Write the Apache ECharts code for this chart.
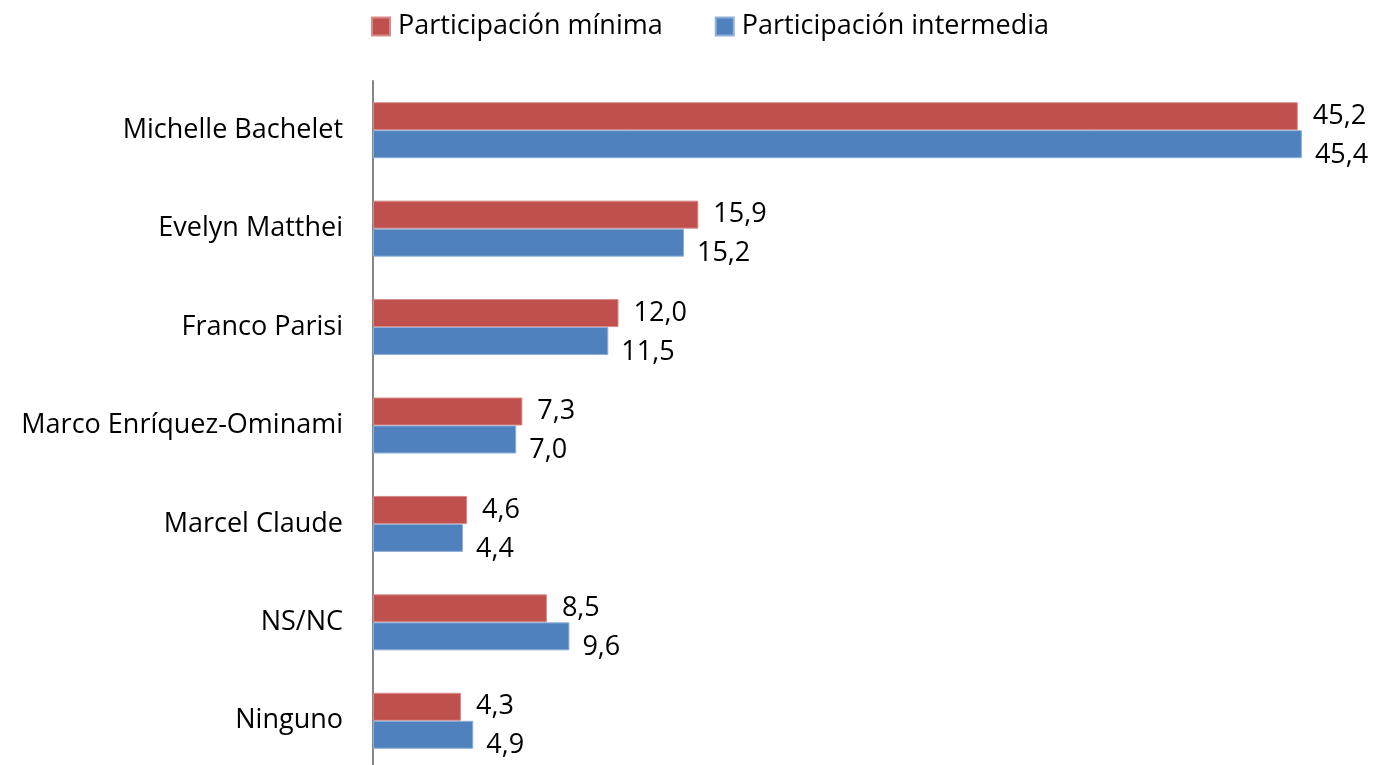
<!DOCTYPE html>
<html>
<head>
<meta charset="utf-8">
<script src="https://cdn.jsdelivr.net/npm/echarts@6/dist/echarts.min.js"></script>
<style>
    html, body, #main {
        width: 100%;
        height: 100%;
        margin: 0;
        background: #fff;
    }
</style>
</head>
<body>
<div id="main"></div>
<script>
    var categories = ['Michelle Bachelet', 'Evelyn Matthei', 'Franco Parisi', 'Marco Enríquez-Ominami', 'Marcel Claude', 'NS/NC', 'Ninguno'];
    var minima = [45.2, 15.9, 12.0, 7.3, 4.6, 8.5, 4.3];
    var intermedia = [45.4, 15.2, 11.5, 7.0, 4.4, 9.6, 4.9];
    var seriesNames = ['Participación mínima', 'Participación intermedia'];

    var font = '"Open Sans", sans-serif';
    var fmt = function (p) {
        return p.value.toFixed(1).replace('.', ',');
    };

    var chart = echarts.init(document.getElementById('main'));
    chart.setOption({
        animation: false,
        legend: {
            left: 366,
            top: 8,
            itemWidth: 18,
            itemHeight: 18,
            itemGap: 52,
            icon: 'rect',
            textStyle: { fontFamily: font, fontSize: 27, color: '#000', padding: [0, 0, 0, 3] },
            data: seriesNames
        },
        grid: {
            left: 373,
            top: 81,
            width: 1023,
            height: 689,
            containLabel: false,
            outerBoundsMode: 'none'
        },
        xAxis: {
            type: 'value',
            min: 0,
            max: 50,
            show: false
        },
        yAxis: {
            type: 'category',
            inverse: true,
            data: categories,
            axisLine: { lineStyle: { color: '#868686', width: 2 } },
            axisTick: { show: false },
            axisLabel: { fontFamily: font, fontSize: 27, color: '#000', margin: 30 }
        },
        series: [
            {
                name: seriesNames[0],
                type: 'bar',
                data: minima,
                barWidth: 28,
                barGap: '0%',
                itemStyle: { color: '#C0504D', borderColor: '#D98A88', borderWidth: 1 },
                label: {
                    show: true, position: 'right', distance: 15,
                    fontFamily: font, fontSize: 27, color: '#000', formatter: fmt
                }
            },
            {
                name: seriesNames[1],
                type: 'bar',
                data: intermedia,
                barWidth: 28,
                barGap: '0%',
                itemStyle: { color: '#4F81BD', borderColor: '#8FB0D8', borderWidth: 1 },
                label: {
                    show: true, position: 'right', distance: 13, offset: [0, 11],
                    fontFamily: font, fontSize: 27, color: '#000', formatter: fmt
                }
            }
        ]
    });
</script>
</body>
</html>
